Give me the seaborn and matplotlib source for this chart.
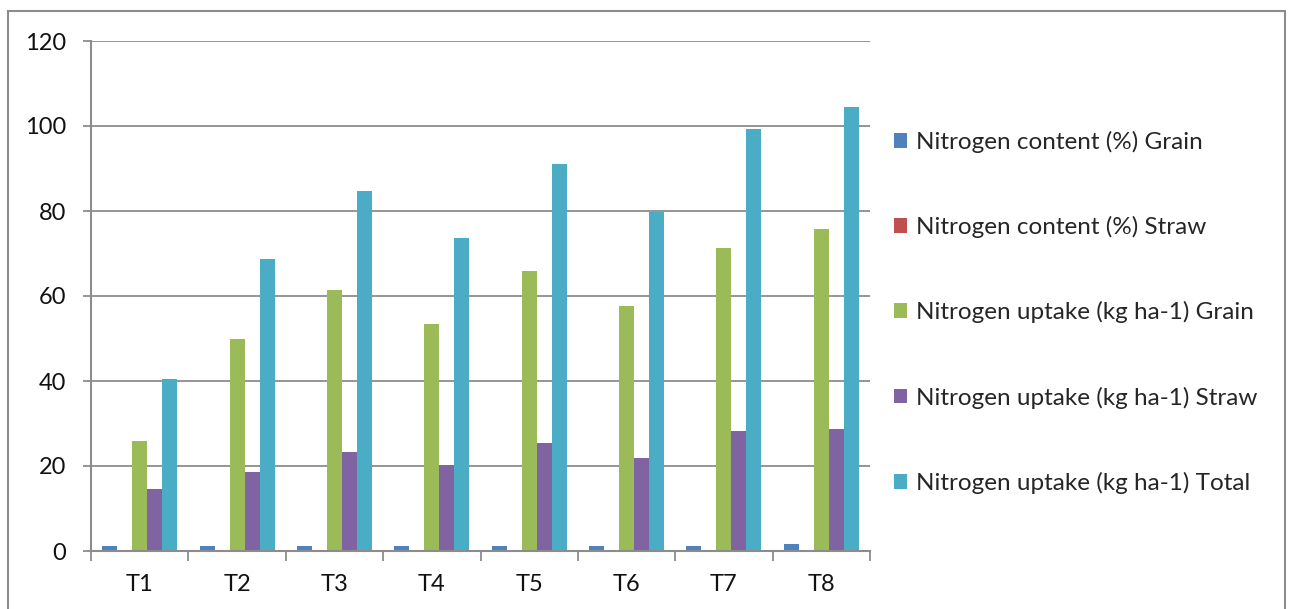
import matplotlib
matplotlib.use("Agg")
import matplotlib.pyplot as plt
import seaborn as sns
import pandas as pd
from matplotlib.patches import Rectangle

treatments = ["T1", "T2", "T3", "T4", "T5", "T6", "T7", "T8"]
n_content_grain = [1.2, 1.2, 1.2, 1.2, 1.2, 1.2, 1.2, 1.6]
n_content_straw = [0.3, 0.3, 0.3, 0.3, 0.3, 0.3, 0.3, 0.3]
n_uptake_grain = [26.0, 50.0, 61.5, 53.5, 65.8, 57.7, 71.3, 75.8]
n_uptake_straw = [14.5, 18.5, 23.3, 20.3, 25.3, 22.0, 28.2, 28.7]
n_uptake_total = [40.5, 68.8, 84.8, 73.6, 91.1, 79.8, 99.2, 104.4]

series_names = [
    "Nitrogen content (%) Grain",
    "Nitrogen content (%) Straw",
    "Nitrogen uptake (kg ha-1) Grain",
    "Nitrogen uptake (kg ha-1) Straw",
    "Nitrogen uptake (kg ha-1) Total",
]
series_values = [n_content_grain, n_content_straw, n_uptake_grain, n_uptake_straw, n_uptake_total]
colors = ["#4F81BD", "#C0504D", "#9BBB59", "#8064A2", "#4BACC6"]

rows = []
for name, vals in zip(series_names, series_values):
    for t, v in zip(treatments, vals):
        rows.append({"Treatment": t, "Series": name, "Value": v})
df = pd.DataFrame(rows)

sns.set_style("white")
plt.rcParams["font.family"] = ["Lato", "DejaVu Sans"]

fig = plt.figure(figsize=(12.93, 6.09), dpi=100)
ax = fig.add_axes([91 / 1293, 1 - 551 / 609, (870 - 91) / 1293, (551 - 41) / 609])

sns.barplot(data=df, x="Treatment", y="Value", hue="Series", palette=colors,
            hue_order=series_names, order=treatments, width=0.77, ax=ax,
            saturation=1, errorbar=None, zorder=2, linewidth=0)

ax.set_ylim(0, 120)
ax.set_xlim(-0.5, len(treatments) - 0.5)
ax.set_yticks(range(0, 121, 20))
ax.set_xlabel("")
ax.set_ylabel("")
grid_c = "#8C8C8C"
ax.yaxis.grid(True, color=grid_c, linewidth=1.3, zorder=0)
ax.set_axisbelow(True)
for s in ["top", "right"]:
    ax.spines[s].set_visible(False)
for s in ["left", "bottom"]:
    ax.spines[s].set_color(grid_c)
    ax.spines[s].set_linewidth(1.5)
    ax.spines[s].set_zorder(5)

ax.tick_params(axis="y", left=True, length=6, width=1.3, color=grid_c, labelsize=17,
               labelcolor="#111111", pad=12)
ax.set_xticks([i for i in range(len(treatments))])
ax.set_xticklabels(treatments)
ax.tick_params(axis="x", bottom=False, labelsize=17, labelcolor="#111111", pad=13)
ax.set_xticks([i - 0.5 for i in range(len(treatments) + 1)], minor=True)
ax.tick_params(axis="x", which="minor", bottom=True, length=7, width=1.3, color=grid_c)

handles, labels = ax.get_legend_handles_labels()
ax.legend(handles, labels, loc="upper left", bbox_to_anchor=(884 / 1293, 1 - 121 / 609),
          bbox_transform=fig.transFigure, frameon=False, fontsize=17.5,
          handlelength=0.55, handleheight=0.55, handletextpad=0.35, labelspacing=2.6,
          borderaxespad=0)

fig.patches.append(Rectangle((8 / 1293, -0.01), (1285 - 8) / 1293, 1 - 11 / 609 + 0.01,
                             transform=fig.transFigure, fill=False, edgecolor="#8C8C8C",
                             linewidth=1.5))

fig.savefig("out.png", dpi=100, facecolor="white")
